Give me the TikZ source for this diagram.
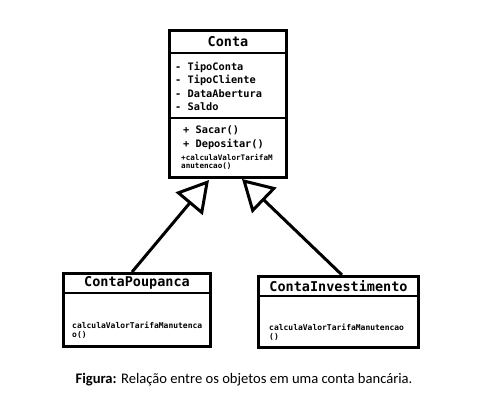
\documentclass[tikz,border=0pt]{standalone}
\usepackage{fontspec}
\setmonofont{DejaVu Sans Mono}
\newfontfamily\capfont{Carlito}
\usetikzlibrary{arrows.meta}
\begin{document}
\begin{tikzpicture}[x=1pt,y=-1pt,
  box/.style={draw, line width=3pt, inner sep=0pt, fill=white},
  sep/.style={line width=2pt},
  head/.style={font=\ttfamily\bfseries\fontsize{13.5}{14}\selectfont, inner sep=0pt},
  item/.style={font=\ttfamily\bfseries\fontsize{10.3}{11}\selectfont, anchor=west, inner sep=0pt},
  small/.style={font=\ttfamily\bfseries\fontsize{7.6}{8}\selectfont, anchor=west, inner sep=0pt},
  smallb/.style={font=\ttfamily\bfseries\fontsize{8}{9}\selectfont, anchor=west, inner sep=0pt},
  inh/.style={line width=3pt, -{Triangle[open, length=31pt, width=35pt, fill=white]}}]
\useasboundingbox[fill=white] (0,0) rectangle (489,409);

% Conta
\node[box, minimum width=117pt, minimum height=146pt] (conta) at (228,104) {};
\draw[sep] (conta.west |- 0,53) -- (conta.east |- 0,53);
\draw[sep] (conta.west |- 0,118) -- (conta.east |- 0,118);
\node[head] (ct) at (228,42) {Conta};
\node[item] (a1) at (175,67) {- TipoConta};
\node[item] (a2) at (175,80) {- TipoCliente};
\node[item] (a3) at (175,94) {- DataAbertura};
\node[item] (a4) at (175,107) {- Saldo};
\node[item] (m1) at (183,130) {+ Sacar()};
\node[item] (m2) at (183,144) {+ Depositar()};
\node[small] (m3) at (181,157) {+calculaValorTarifaM};
\node[small] (m4) at (181,166) {anutencao()};

% ContaPoupanca
\node[box, minimum width=147pt, minimum height=73pt] (poup) at (137,310) {};
\draw[sep] (poup.west |- 0,293) -- (poup.east |- 0,293);
\node[head] (pt) at (137,283) {ContaPoupanca};
\node[smallb] (p1) at (72,325) {calculaValorTarifaManutenca};
\node[smallb] (p2) at (72,335) {o()};

% ContaInvestimento
\node[box, minimum width=160pt, minimum height=71pt] (inv) at (338.5,312) {};
\draw[sep] (inv.west |- 0,296) -- (inv.east |- 0,296);
\node[head] (it) at (338.5,286) {ContaInvestimento};
\node[smallb] (i1) at (269,327) {calculaValorTarifaManutencao};
\node[smallb] (i2) at (269,337) {()};

% inheritance
\coordinate (tipL) at (209,180);
\coordinate (tipR) at (242,179);
\draw[inh] ([xshift=-5pt]poup.north) -- (tipL);
\draw[inh] ([xshift=3.5pt]inv.north) -- (tipR);

% caption
\node[font=\capfont\fontsize{14.6}{16}\selectfont, inner sep=0pt] (cap) at (244,380) {\textbf{Figura:} Relação entre os objetos em uma conta bancária.};
\end{tikzpicture}
\end{document}
